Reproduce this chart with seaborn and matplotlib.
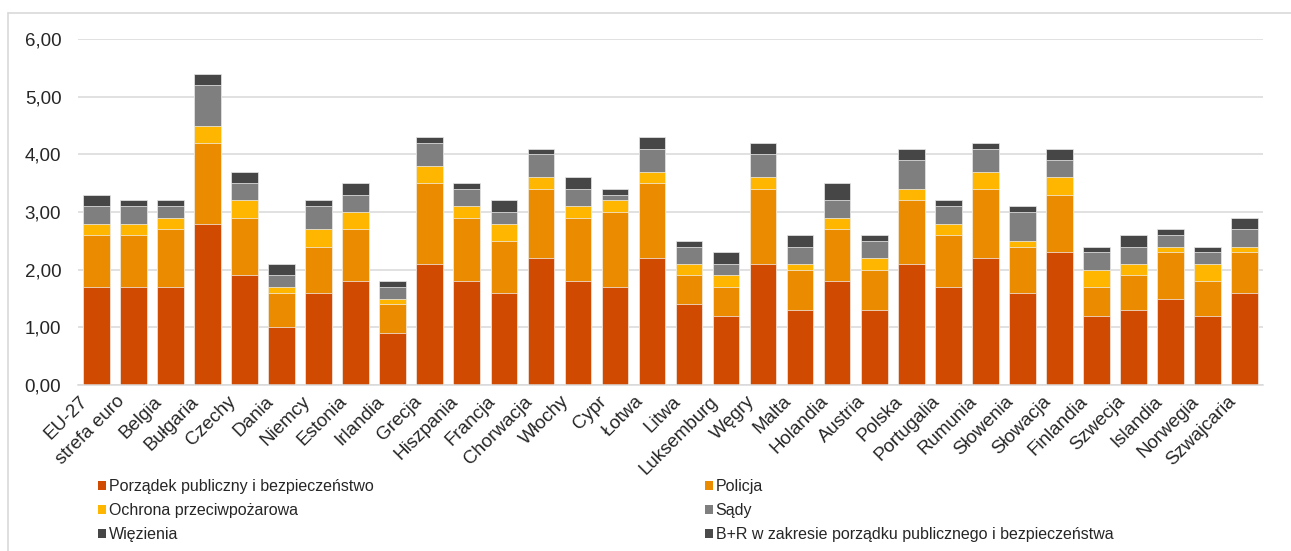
import matplotlib
matplotlib.use("Agg")
import matplotlib.pyplot as plt
import matplotlib.transforms as mtransforms
from matplotlib.patches import Patch
from matplotlib.lines import Line2D
import seaborn as sns
import pandas as pd

# Countries on the x axis
countries = ["EU-27", "strefa euro", "Belgia", "Bułgaria", "Czechy", "Dania", "Niemcy",
             "Estonia", "Irlandia", "Grecja", "Hiszpania", "Francja", "Chorwacja", "Włochy",
             "Cypr", "Łotwa", "Litwa", "Luksemburg", "Węgry", "Malta", "Holandia", "Austria",
             "Polska", "Portugalia", "Rumunia", "Słowenia", "Słowacja", "Finlandia", "Szwecja",
             "Islandia", "Norwegia", "Szwajcaria"]

# Segment values (% of GDP)
porzadek = [1.7, 1.7, 1.7, 2.8, 1.9, 1.0, 1.6, 1.8, 0.9, 2.1, 1.8, 1.6, 2.2, 1.8, 1.7, 2.2,
            1.4, 1.2, 2.1, 1.3, 1.8, 1.3, 2.1, 1.7, 2.2, 1.6, 2.3, 1.2, 1.3, 1.5, 1.2, 1.6]
policja = [0.9, 0.9, 1.0, 1.4, 1.0, 0.6, 0.8, 0.9, 0.5, 1.4, 1.1, 0.9, 1.2, 1.1, 1.3, 1.3,
           0.5, 0.5, 1.3, 0.7, 0.9, 0.7, 1.1, 0.9, 1.2, 0.8, 1.0, 0.5, 0.6, 0.8, 0.6, 0.7]
ochrona = [0.2, 0.2, 0.2, 0.3, 0.3, 0.1, 0.3, 0.3, 0.1, 0.3, 0.2, 0.3, 0.2, 0.2, 0.2, 0.2,
           0.2, 0.2, 0.2, 0.1, 0.2, 0.2, 0.2, 0.2, 0.3, 0.1, 0.3, 0.3, 0.2, 0.1, 0.3, 0.1]
sady = [0.3, 0.3, 0.2, 0.7, 0.3, 0.2, 0.4, 0.3, 0.2, 0.4, 0.3, 0.2, 0.4, 0.3, 0.1, 0.4,
        0.3, 0.2, 0.4, 0.3, 0.3, 0.3, 0.5, 0.3, 0.4, 0.5, 0.3, 0.3, 0.3, 0.2, 0.2, 0.3]
wiezienia = [0.2, 0.1, 0.1, 0.2, 0.2, 0.2, 0.1, 0.2, 0.1, 0.1, 0.1, 0.2, 0.1, 0.2, 0.1, 0.2,
             0.1, 0.2, 0.2, 0.2, 0.3, 0.1, 0.2, 0.1, 0.1, 0.1, 0.2, 0.1, 0.2, 0.1, 0.1, 0.2]
bir = [0.0] * 32

series_names = ["Porządek publiczny i bezpieczeństwo", "Policja", "Ochrona przeciwpożarowa",
                "Sądy", "Więzienia", "B+R w zakresie porządku publicznego i bezpieczeństwa"]
colors = ["#D04A02", "#EB8C00", "#FFB600", "#7F7F7F", "#464646", "#4B4B4B"]

df = pd.DataFrame({"kraj": countries})
for name, vals in zip(series_names, [porzadek, policja, ochrona, sady, wiezienia, bir]):
    df[name] = vals
cum = df[series_names].cumsum(axis=1)

sns.set_style("white")
plt.rcParams["font.family"] = ["Liberation Sans", "DejaVu Sans"]
fs = 13.5
leg_fs = 11.5

fig = plt.figure(figsize=(12.91, 5.51), dpi=100)
ax = fig.add_axes([78 / 1291, 1 - 385 / 551, (1263 - 78) / 1291, (385 - 39) / 551])

# Draw cumulative totals from the top segment down so each layer shows
for name, col in reversed(list(zip(series_names, colors))):
    sns.barplot(x=df["kraj"], y=cum[name], color=col, width=0.72, ax=ax,
                edgecolor="#F2F2F2", linewidth=0.5, saturation=1)

ax.set_ylim(0, 6)
ax.set_xlim(-0.5, len(countries) - 0.5)
ax.set_yticks([0, 1, 2, 3, 4, 5, 6])
ax.set_yticklabels([f"{v:.2f}".replace(".", ",") for v in range(7)], fontsize=fs, color="#262626")
ax.yaxis.grid(True, color="#D9D9D9", linewidth=1.1)
ax.set_axisbelow(True)
for s in ["top", "right", "left"]:
    ax.spines[s].set_visible(False)
ax.spines["bottom"].set_color("#D9D9D9")
ax.spines["bottom"].set_linewidth(1.1)
ax.set_xlabel("")
ax.set_ylabel("")
ax.tick_params(axis="y", length=0, pad=12)
ax.tick_params(axis="x", length=0, pad=10)
ax.set_xticks(range(len(countries)))
ax.set_xticklabels(countries, rotation=45, ha="right", va="center",
                   rotation_mode="anchor", fontsize=fs, color="#262626")
shift = mtransforms.ScaledTranslation(-8 / 72, 0, fig.dpi_scale_trans)
for lab in ax.get_xticklabels():
    lab.set_transform(lab.get_transform() + shift)

handles = [Patch(facecolor=c, edgecolor="none") for c in colors]
order = [0, 2, 4, 1, 3, 5]
fig.legend([handles[i] for i in order], [series_names[i] for i in order],
           loc="upper left", bbox_to_anchor=(98 / 1291, 1 - 479 / 551), ncol=2,
           frameon=False, fontsize=leg_fs,
           handlelength=0.5, handleheight=0.5, handletextpad=0.2,
           columnspacing=20.7, labelspacing=0.57,
           borderpad=0, borderaxespad=0, labelcolor="#262626")

# Thin frame on top and left like the source
fig.add_artist(Line2D([8 / 1291, 1], [1 - 13 / 551] * 2, color="#D9D9D9", linewidth=1.2,
                      transform=fig.transFigure))
fig.add_artist(Line2D([8 / 1291] * 2, [0, 1 - 13 / 551], color="#D9D9D9", linewidth=1.2,
                      transform=fig.transFigure))

fig.savefig("out.png", dpi=100)
